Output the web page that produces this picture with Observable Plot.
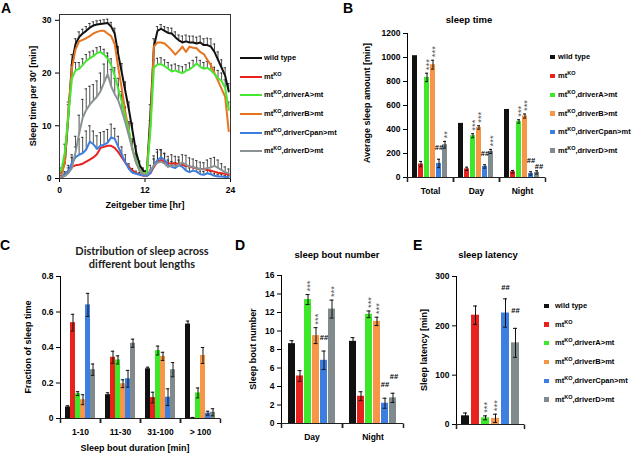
<!DOCTYPE html>
<html><head><meta charset="utf-8">
<script src="https://cdn.jsdelivr.net/npm/d3@7"></script>
<script src="https://cdn.jsdelivr.net/npm/@observablehq/plot@0.6"></script>
<style>
body{margin:0;background:#fff;}
#root{position:relative;width:637px;height:456px;overflow:hidden;font-family:'Liberation Sans',Arial,sans-serif;color:#000;background:#fff;}
.abs{position:absolute;white-space:nowrap;line-height:1.15;}
.c{transform:translate(-50%,-50%);}
.r{transform:translate(-50%,-50%) rotate(-90deg);}
.l{transform:translate(0,-50%);}
.letter{font-weight:bold;font-size:14px;}
.ttl{font-weight:bold;font-size:9.5px;}
.ax{font-weight:bold;font-size:9px;}
.leg{font-weight:bold;font-size:7.5px;}
.ctitle{font-family:Lato,'Open Sans',sans-serif;font-weight:bold;font-size:11px;line-height:13px;text-align:center;color:#222;}
sup{font-size:5.5px;vertical-align:3px;line-height:0;}
</style></head><body><div id="root"></div><script>
// ---------- series ----------
const SERIES = ["wt","ko","r1","r2","r3","r4"];
const seriesBase = ["wild type","mt","mt","mt","mt","mt"];
const seriesSup = ["","KO","KO","KO","KO","KO"];
const seriesSuffix = ["","",",driverA>mt",",driverB>mt",",driverCpan>mt",",driverD>mt"];
const barColors = ["#111111","#e8231d","#3de82b","#f79646","#3d7fe0","#818b8d"];
const lineColors = ["#111111","#e8231d","#44e830","#e8731e","#3d7fe0","#8a9293"];

// ---------- panel A: sleep per 30 min ----------
const xTicksA = [0,12,24];
const yTicksA = [0,10,20,30];
const wtA = [1,3,12,22,25.5,26.8,27.5,28,28.6,29,29.2,29.3, 29.4,29.5,28.8,27.5,23.5,20,16.5,13,9,5,2.5,1.5,
             1,12,25,28,28.4,28,27.6,27.5,26.8,26.2,25.8,26, 25.8,25.8,25.6,25.8,25.3,25.3,25,24,22.5,21,19.5,16.5];
const koA = [0.2,0.5,1.5,2.2,2.5,2.6,2.8,3.2,3.6,4,4.6,5.8, 6,6.2,6.2,5.8,5,4,3,2.2,1.5,1,0.8,0.5,
             0.5,1,2.2,3.2,3.5,3.2,2.9,2.8,2.9,2.7,2.6,2.4, 2.3,2.1,1.9,1.8,1.8,1.6,1.5,1.3,1.1,1,0.9,0.7];
const r1A = [1.5,5,12,19,20.5,20.8,21.5,22.3,22.8,23.2,23.8,24, 23.5,22.8,21.5,19.5,17,14.5,11.5,9,5.5,3.5,1.5,1,
             1,9,21,21.6,21.7,21.3,20.8,20.3,20.5,20.2,20,20.4, 20.7,21.2,21.8,21.2,20.8,21,20.5,19.8,19,18.5,17.2,13];
const r2A = [0.5,3,13,21,24.5,26,26.3,26.6,27,27.5,27.8,28, 28,27.5,27,25.5,21,17,12.5,9,5.5,3,1.5,1,
             1,10,25,25.8,25.8,25.6,25,24.3,23.5,24.2,25,24, 25,24.8,24.7,24,23.6,22.5,21.5,20,18.5,17,15.5,9];
const r3A = [0.3,0.8,1.5,3,4,4.5,4.8,5.5,7,6.5,5.6,6.2, 6.4,6.8,7.8,7.5,6,4.5,3,1.8,1.1,0.9,0.7,0.6,
             0.5,1,2.5,3.5,4,3.5,2.5,2.2,2,2.5,2.2,1.5, 1.2,1.5,1.3,0.8,0.7,1,0.8,0.5,0.4,0.4,0.3,0.3];
const r4A = [0.3,0.5,1,2,5,8.5,11.5,13,14,14.8,15.5,16.5, 18.2,19.8,17.5,16,14.8,12.8,10.6,8,5.5,3,1.5,0.8,
             0.8,1.5,2.5,3,3.2,2.8,2.2,2.5,2.4,2.6,3,2.6, 2.3,2.2,1.9,1.8,1.7,2,2.1,2.4,2,1.6,1.2,1];
const wtAErr = [0.5,1,2,1.5,1,1,0.8,0.8,0.8,0.7,0.7,0.7, 0.7,0.7,0.8,1,1.5,1.8,1.8,1.5,1.5,1.2,0.8,0.5,
                0.5,2,1.5,0.8,0.8,0.8,1,1,1,1,1.2,1.2, 1.2,1.2,1.2,1.2,1.2,1.3,1.5,1.5,1.5,1.5,1.5,1.5];
const r1AErr = [0.5,1.5,2.5,2.5,1.5,1.2,1.2,1.2,1.2,1,1,1, 1,1,1.2,1.5,2,2,2,1.8,1.5,1.2,0.8,0.5,
                0.5,2,1.5,1.2,1.2,1.2,1.2,1.2,1.2,1.2,1.2,1.2, 1.2,1.2,1.2,1.2,1.2,1.2,1.3,1.3,1.5,1.5,1.5,1.5];
const r3AErr = [0.3,0.5,1,1.5,2,3,3,3.5,3,2.5,2.5,2.5, 2.5,2.5,2.5,2,2,1.5,1.5,1,0.8,0.5,0.4,0.3,
                0.3,0.6,1.2,1.5,1.5,1.2,1,1,1,1,0.8,0.8, 0.8,0.8,0.8,0.6,0.6,0.6,0.5,0.5,0.4,0.4,0.3,0.3];
const r4AErr = [0.3,0.5,1,2,3,3.5,3.5,4,3.5,3,3,3.5, 3.5,3.4,3.2,3,3,3,3,2.5,2,1.5,1,0.5,
                0.5,1,1.8,2.5,2.2,2,2,2,1.8,1.5,1.5,1.8, 1.6,1.5,1.5,1.3,1.3,1.5,1.7,1.6,1.5,1.2,1,0.8];

// ---------- panel B: sleep time ----------
const groupsB = ["Total","Day","Night"];
const yTicksB = [0,200,400,600,800,1000,1200];
const bTotal = [1015,112,834,940,117,273];
const bDay   = [451,72,348,417,92,217];
const bNight = [567,48,467,512,34,42];
const bTotalErr = [0,22,35,37,35,28];
const bDayErr   = [0,14,17,14,14,17];
const bNightErr = [0,11,14,17,14,14];
const bTotalSig = ["","","***","***","##","**"];
const bDaySig   = ["","","***","***","##","***"];
const bNightSig = ["","","***","***","##","##"];

// ---------- panel C: bout length distribution ----------
const groupsC = ["1-10","11-30","31-100","> 100"];
const yTicksC = [0,0.2,0.4,0.6,0.8];
const c1 = [0.065,0.54,0.14,0.106,0.64,0.275];
const c2 = [0.134,0.345,0.33,0.196,0.224,0.424];
const c3 = [0.28,0.118,0.383,0.35,0.12,0.275];
const c4 = [0.532,0.004,0.144,0.355,0.03,0.035];
const c1Err = [0.007,0.047,0.011,0.028,0.065,0.032];
const c2Err = [0.011,0.034,0.023,0.022,0.047,0.023];
const c3Err = [0.009,0.03,0.025,0.023,0.047,0.04];
const c4Err = [0.017,0.002,0.028,0.045,0.011,0.02];

// ---------- panel D: bout number ----------
const groupsD = ["Day","Night"];
const yTicksD = [0,2,4,6,8,10,12,14,16];
const dDay   = [8.63,5.14,13.4,9.5,6.83,12.37];
const dNight = [8.88,2.95,11.8,11.04,2.19,2.77];
const dDayErr   = [0.32,0.58,0.54,0.86,1.0,0.97];
const dNightErr = [0.4,0.48,0.36,0.45,0.54,0.5];
const dDaySig   = ["","","***","***","##","***"];
const dNightSig = ["","","***","***","##","##"];

// ---------- panel E: latency ----------
const groupsE = ["all"];
const yTicksE = [0,100,200,300];
const eVals = [17.6,221.6,13.5,12.5,226,165.5];
const eErr  = [5.7,18.6,4,8.4,28.7,29.4];
const eSig  = ["","","***","***","##","##"];

// ---------- helpers ----------
const root = document.getElementById("root");
const STYLE = "font: bold 8.5px 'Liberation Sans', Arial, sans-serif; overflow: visible; background: none; color: #000;";
function place(el, left, top) {
  el.style.position = "absolute"; el.style.left = left + "px"; el.style.top = top + "px";
  root.appendChild(el);
}
function label(html, x, y, cls) {
  const d = document.createElement("div");
  d.className = "abs " + cls; d.innerHTML = html;
  d.style.left = x + "px"; d.style.top = y + "px";
  root.appendChild(d); return d;
}
function seriesHTML(i) {
  return seriesBase[i] + (seriesSup[i] ? "<sup>" + seriesSup[i] + "</sup>" : "") + seriesSuffix[i];
}
const sepTick = {draw(ctx) { ctx.moveTo(0, 0); ctx.lineTo(0, 4.5); }};

function groupedBars(cfg) {
  const rows = [];
  cfg.groups.forEach((g, gi) => SERIES.forEach((s, si) => rows.push({
    g, s, v: cfg.vals[gi][si], e: cfg.errs[gi][si],
    sig: cfg.sig ? cfg.sig[gi][si] : "",
    follows: cfg.sig && si > 0 ? cfg.sig[gi][si - 1] === "##" : false})));
  const errRows = rows.filter(d => d.e > 0);
  const hashFirst = rows.filter(d => d.sig === "##" && !d.follows);
  const hashSecond = rows.filter(d => d.sig === "##" && d.follows);
  const hashStyle = {fx: "g", x: "s", y: d => d.v + d.e, text: "sig", lineAnchor: "bottom", fontSize: 7.5, fontWeight: "bold", fill: "#000"};
  return Plot.plot({
    width: cfg.width, height: cfg.height,
    marginLeft: cfg.ml, marginRight: cfg.mr, marginTop: cfg.mt, marginBottom: cfg.mb,
    style: STYLE,
    fx: {domain: cfg.groups, padding: 0, axis: cfg.groupLabels ? "bottom" : null, tickSize: 0, tickPadding: cfg.labelPad || 8, label: null},
    x: {domain: SERIES, paddingInner: cfg.pi, paddingOuter: cfg.po, axis: null},
    y: {domain: cfg.yDomain, ticks: cfg.yTicks, tickFormat: cfg.tickFormat || (d => String(d)), tickSize: 4, tickPadding: 3, line: true, label: null},
    color: {domain: SERIES, range: barColors},
    marks: [
      Plot.barY(rows, {fx: "g", x: "s", y: "v", fill: "s"}),
      Plot.ruleX(errRows, {fx: "g", x: "s", y1: d => d.v - d.e, y2: d => d.v + d.e, stroke: "#111", strokeWidth: 1}),
      Plot.tickY(errRows, {fx: "g", x: "s", y: d => d.v + d.e, stroke: "#111", insetLeft: cfg.capInset, insetRight: cfg.capInset, strokeWidth: 1}),
      Plot.tickY(errRows, {fx: "g", x: "s", y: d => Math.max(0, d.v - d.e), stroke: "#111", insetLeft: cfg.capInset, insetRight: cfg.capInset, strokeWidth: 1}),
      Plot.ruleY([0], {stroke: "#222"}),
      Plot.dot(cfg.groups, {fx: d => d, frameAnchor: "bottom-left", symbol: sepTick, stroke: "#222", fill: "none", r: 2}),
      Plot.dot(cfg.groups, {fx: d => d, frameAnchor: "bottom-right", symbol: sepTick, stroke: "#222", fill: "none", r: 2}),
      Plot.text(rows.filter(d => d.sig.includes("*")), {fx: "g", x: "s", y: d => d.v + d.e, text: "sig",
        rotate: -90, textAnchor: "start", lineAnchor: "middle", dy: -3, dx: 1.5, fontSize: 9.5, fontWeight: "normal", fill: "#555"}),
      Plot.text(hashFirst, {...hashStyle, dy: cfg.hashDy ?? -9}),
      Plot.text(hashSecond, {...hashStyle, dy: cfg.hashDy2 ?? -3, dx: cfg.hashDx2 ?? 2})
    ]
  });
}

// ---------- panel A ----------
const tA = d3.range(48).map(i => 0.25 + i * 0.5);
const seriesA = [wtA, koA, r1A, r2A, r3A, r4A];
const errA = [wtAErr, null, r1AErr, null, r3AErr, r4AErr];
const rowsA = [];
[0, 3, 2, 1, 4, 5].forEach(si => seriesA[si].forEach((v, i) =>
  rowsA.push({s: SERIES[si], t: tA[i], v, e: errA[si] ? errA[si][i] : 0})));
const errRowsA = rowsA.filter(d => d.e > 0);
const plotA = Plot.plot({
  width: 240, height: 212, marginLeft: 59, marginRight: 10, marginTop: 14, marginBottom: 34,
  style: STYLE,
  x: {domain: [0, 24], ticks: xTicksA, tickSize: 4, tickPadding: 4, label: null},
  y: {domain: [0, 31.1], ticks: yTicksA, tickSize: 4, tickPadding: 4, label: null},
  color: {domain: SERIES, range: lineColors},
  marks: [
    Plot.ruleX(errRowsA, {x: "t", y1: "v", y2: d => d.v + d.e, stroke: "#222", strokeWidth: 0.8}),
    Plot.ruleY(errRowsA, {y: d => d.v + d.e, x1: d => d.t - 0.17, x2: d => d.t + 0.17, stroke: "#222", strokeWidth: 0.8}),
    Plot.line(rowsA, {x: "t", y: "v", z: "s", stroke: "s", strokeWidth: 2}),
    Plot.frame({stroke: "#333"})
  ]
});
place(plotA, 0, 0);

// ---------- panel B ----------
place(groupedBars({
  groups: groupsB, vals: [bTotal, bDay, bNight], errs: [bTotalErr, bDayErr, bNightErr], sig: [bTotalSig, bDaySig, bNightSig],
  yDomain: [0, 1200], yTicks: yTicksB, width: 230, height: 210, ml: 86, mr: 5, mt: 33, mb: 33,
  pi: 0.1, po: 0.55, capInset: 1, groupLabels: true, labelPad: 10, hashDy: -9, hashDy2: -2, hashDx2: 2
}), 320, 0);

// ---------- panel C ----------
place(groupedBars({
  groups: groupsC, vals: [c1, c2, c3, c4], errs: [c1Err, c2Err, c3Err, c4Err],
  yDomain: [0, 0.8], yTicks: yTicksC, tickFormat: d => d === 0 ? "0" : d.toFixed(1),
  width: 225, height: 220, ml: 60, mr: 5, mt: 46, mb: 32,
  pi: 0.08, po: 0.65, capInset: 0.8, groupLabels: true, labelPad: 10
}), 0, 230);

// ---------- panel D ----------
place(groupedBars({
  groups: groupsD, vals: [dDay, dNight], errs: [dDayErr, dNightErr], sig: [dDaySig, dNightSig],
  yDomain: [0, 16], yTicks: yTicksD, width: 178, height: 220, ml: 51, mr: 5, mt: 45, mb: 27,
  pi: 0.15, po: 0.54, capInset: 1.5, groupLabels: true, labelPad: 10, hashDy: -11, hashDy2: -14, hashDx2: 1
}), 230, 230);

// ---------- panel E ----------
place(groupedBars({
  groups: groupsE, vals: [eVals], errs: [eErr], sig: [eSig],
  yDomain: [0, 300], yTicks: yTicksE, width: 109, height: 220, ml: 36, mr: 5, mt: 46, mb: 26,
  pi: 0.23, po: 0.5, capInset: 2, groupLabels: false, hashDy: -9, hashDy2: -15, hashDx2: 0
}), 420, 230);

// ---------- texts ----------
label("A", 1, 0, "letter");
label("B", 343, 0, "letter");
label("C", 0, 237, "letter");
label("D", 235, 237, "letter");
label("E", 413, 237, "letter");

label("sleep time", 469, 20, "c ttl");
label("sleep bout number", 337, 255, "c ttl");
label("sleep latency", 488, 255, "c ttl");
label("Distribution of sleep across<br>different bout lengths", 142, 257, "c ctitle");

label("Sleep time per 30' [min]", 33, 96, "r ax");
label("Zeitgeber time [hr]", 145, 205, "c ax");
label("Average sleep amount [min]", 367, 103, "r ax");
label("Fraction of sleep time", 28, 347, "r ax");
label("Sleep bout duration [min]", 135, 448, "c ax");
label("Sleep bout number", 253, 349, "r ax");
label("Sleep latency [min]", 424, 350, "r ax");

// legends
const legA = [58, 76.5, 95, 114, 132.5, 151];
const legB = [57, 76, 95, 113.5, 132, 150.5];
const legE = [306, 324.5, 343, 362, 381, 399.5];
SERIES.forEach((s, i) => {
  const ln = document.createElement("div");
  ln.style.cssText = `position:absolute;left:240px;top:${legA[i] - 1}px;width:22px;height:2.2px;background:${lineColors[i]};`;
  root.appendChild(ln);
  label(seriesHTML(i), 264, legA[i], "l leg");

  const sq = document.createElement("div");
  sq.style.cssText = `position:absolute;left:550px;top:${legB[i] - 2.3}px;width:4.6px;height:4.6px;background:${barColors[i]};`;
  root.appendChild(sq);
  label(seriesHTML(i), 558, legB[i], "l leg");

  const sq2 = document.createElement("div");
  sq2.style.cssText = `position:absolute;left:544px;top:${legE[i] - 2.3}px;width:4.6px;height:4.6px;background:${barColors[i]};`;
  root.appendChild(sq2);
  label(seriesHTML(i), 555, legE[i], "l leg");
});
</script></body></html>
